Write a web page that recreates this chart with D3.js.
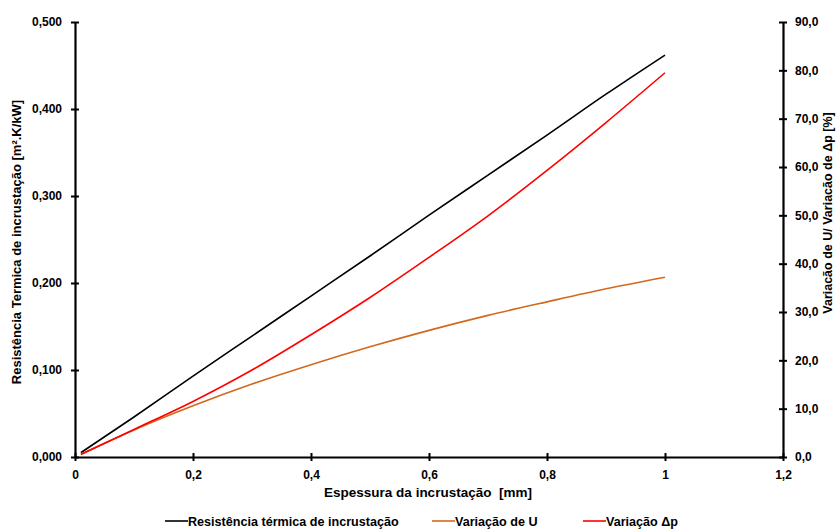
<!DOCTYPE html>
<html>
<head>
<meta charset="utf-8">
<script src="https://cdn.jsdelivr.net/npm/d3@7"></script>
<style>
  body { margin: 0; background: #fff; }
  text { font-family: "Liberation Sans", Arial, sans-serif; font-weight: bold; }
</style>
</head>
<body>
<div class="chart"></div>
<script>
  // espessura [mm]
  const thickness = [0.01, 0.1, 0.2, 0.3, 0.4, 0.5, 0.6, 0.7, 0.8, 0.9, 1.0];
  // resistencia termica [m2.K/kW] (eixo esquerdo)
  const resistance = [0.005, 0.046, 0.093, 0.139, 0.185, 0.231, 0.278, 0.324, 0.370, 0.417, 0.462];
  // variacao de U [%] (eixo direito)
  const varU = [0.6, 5.6, 10.6, 15.1, 19.1, 22.8, 26.2, 29.3, 32.1, 34.8, 37.2];
  // variacao dp [%] (eixo direito)
  const varDp = [0.5, 5.7, 11.5, 18.0, 25.3, 33.0, 41.3, 49.9, 59.3, 69.2, 79.5];

  const xTicks = [0, 0.2, 0.4, 0.6, 0.8, 1, 1.2];
  const yLeftTicks = [0, 0.1, 0.2, 0.3, 0.4, 0.5];
  const yRightTicks = [0, 10, 20, 30, 40, 50, 60, 70, 80, 90];

  const legendItems = [
    {label: "Resistência térmica de incrustação", color: "#000000", x: 165},
    {label: "Variação de U", color: "#d2691e", x: 432},
    {label: "Variação Δp", color: "#ff0000", x: 583}
  ];

  const margin = {top: 22, right: 54, bottom: 75, left: 75},
    W = 837, H = 532,
    width = W - margin.left - margin.right,
    height = H - margin.top - margin.bottom;

  const x = d3.scaleLinear().domain([0, 1.2]).range([0, width]);
  const yL = d3.scaleLinear().domain([0, 0.5]).range([height, 0]);
  const yR = d3.scaleLinear().domain([0, 90]).range([height, 0]);

  const fmtX = d => d === 0 || d === 1 ? String(d) : d3.format(".1f")(d).replace(".", ",");
  const fmtL = d => d3.format(".3f")(d).replace(".", ",");
  const fmtR = d => d3.format(".1f")(d).replace(".", ",");

  const svg = d3.select(".chart").append("svg")
      .attr("width", W)
      .attr("height", H);

  const g = svg.append("g")
      .attr("transform", "translate(" + margin.left + "," + margin.top + ")");

  // eixos
  const xAxis = g.append("g")
    .attr("transform", "translate(0," + height + ")")
    .call(d3.axisBottom(x).tickValues(xTicks).tickFormat(fmtX).tickSizeInner(4).tickSizeOuter(0).tickPadding(9));

  const yAxisL = g.append("g")
    .call(d3.axisLeft(yL).tickValues(yLeftTicks).tickFormat(fmtL).tickSizeInner(4).tickSizeOuter(0).tickPadding(9));

  const yAxisR = g.append("g")
    .attr("transform", "translate(" + width + ",0)")
    .call(d3.axisRight(yR).tickValues(yRightTicks).tickFormat(fmtR).tickSizeInner(4).tickSizeOuter(0).tickPadding(8));

  [xAxis, yAxisL, yAxisR].forEach(a => {
    a.select(".domain").attr("stroke", "#000").attr("stroke-width", 2.2);
    a.selectAll(".tick line").attr("stroke", "#000").attr("stroke-width", 2);
    a.selectAll(".tick text").attr("fill", "#000").attr("font-size", 12);
  });
  // ticks cruzando o eixo
  xAxis.selectAll(".tick line").attr("y1", -4).attr("y2", 4);
  yAxisL.selectAll(".tick line").attr("x1", 4).attr("x2", -4);
  yAxisR.selectAll(".tick line").attr("x1", -4).attr("x2", 4);

  // linhas
  const lineL = d3.line().x((d, i) => x(thickness[i])).y(d => yL(d)).curve(d3.curveMonotoneX);
  const lineR = d3.line().x((d, i) => x(thickness[i])).y(d => yR(d)).curve(d3.curveMonotoneX);

  g.append("path").datum(resistance).attr("d", lineL)
    .attr("fill", "none").attr("stroke", "#000").attr("stroke-width", 1.6);
  g.append("path").datum(varU).attr("d", lineR)
    .attr("fill", "none").attr("stroke", "#d2691e").attr("stroke-width", 1.6);
  g.append("path").datum(varDp).attr("d", lineR)
    .attr("fill", "none").attr("stroke", "#ff0000").attr("stroke-width", 1.6);

  // titulos dos eixos
  svg.append("text")
    .attr("x", 428)
    .attr("y", 497)
    .attr("text-anchor", "middle")
    .attr("font-size", 13.5)
    .text("Espessura da incrustação\u00a0\u00a0[mm]");

  svg.append("text")
    .attr("transform", "translate(21,242) rotate(-90)")
    .attr("text-anchor", "middle")
    .attr("font-size", 13)
    .text("Resistência Termica de incrustação [m².K/kW]");

  svg.append("text")
    .attr("transform", "translate(832,213) rotate(-90)")
    .attr("text-anchor", "middle")
    .attr("font-size", 12.5)
    .text("Variacão de U/ Variacão de Δp [%]");

  // legenda
  const legend = svg.append("g").attr("transform", "translate(0,521)");
  legendItems.forEach(d => {
    legend.append("line")
      .attr("x1", d.x).attr("x2", d.x + 23)
      .attr("y1", 0).attr("y2", 0)
      .attr("stroke", d.color).attr("stroke-width", 1.6);
    legend.append("text")
      .attr("x", d.x + 23).attr("y", 4.5)
      .attr("font-size", 12.6)
      .text(d.label);
  });
</script>
</body>
</html>
